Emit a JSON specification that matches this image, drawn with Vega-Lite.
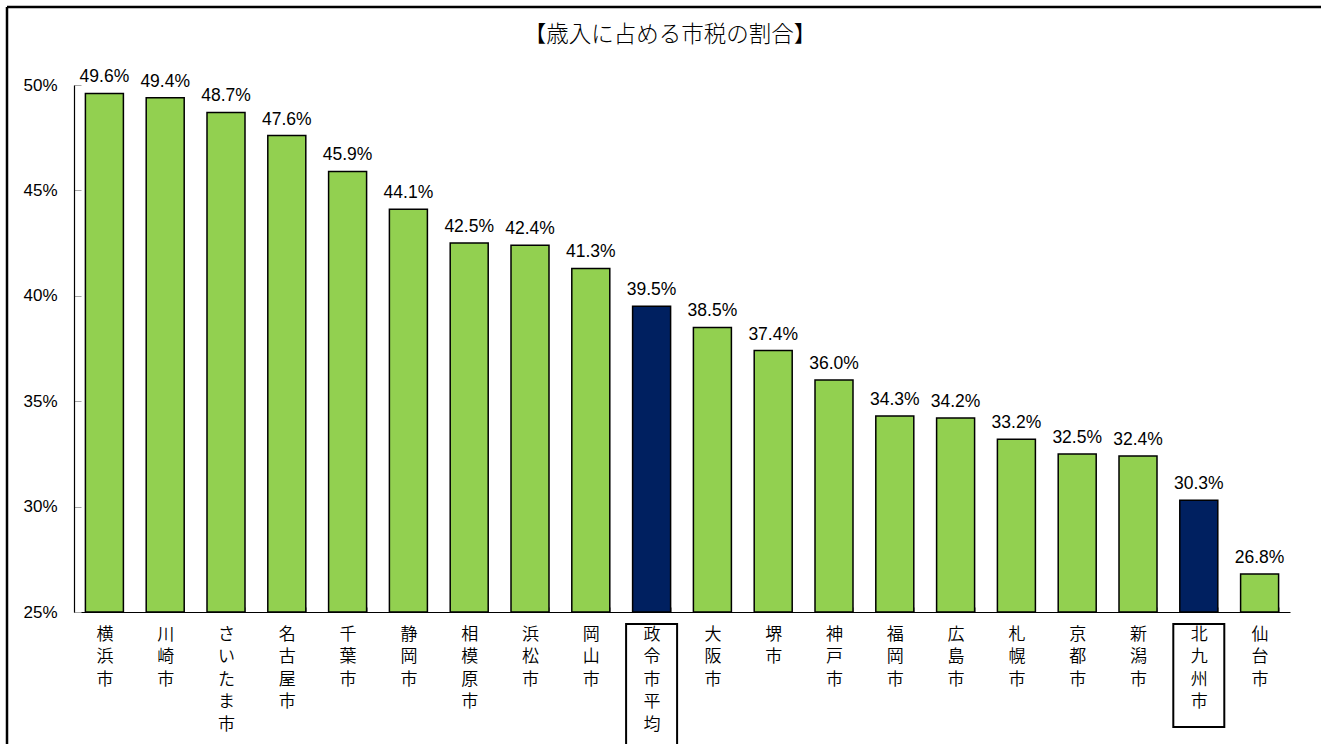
{
  "$schema": "https://vega.github.io/schema/vega-lite/v6.json",
  "autosize": {"type": "none"},
  "padding": {"left": 7, "top": 7, "right": 0, "bottom": 0},
  "width": 1314,
  "height": 737,
  "background": "white",
  "title": {
    "text": "【歳入に占める市税の割合】",
    "font": "Noto Sans CJK JP",
    "fontSize": 22.5,
    "fontWeight": 300,
    "color": "black",
    "anchor": "middle",
    "offset": -39,
    "dx": 6
  },
  "config": {
    "view": {"stroke": "black", "strokeWidth": 2.5, "strokeDash": [1314, 2051, 737, 0]},
    "axis": {"grid": false}
  },
  "data": {
    "values": [
      {"city": "横浜市", "value": 0.496},
      {"city": "川崎市", "value": 0.494},
      {"city": "さいたま市", "value": 0.487},
      {"city": "名古屋市", "value": 0.476},
      {"city": "千葉市", "value": 0.459},
      {"city": "静岡市", "value": 0.441},
      {"city": "相模原市", "value": 0.425},
      {"city": "浜松市", "value": 0.424},
      {"city": "岡山市", "value": 0.413},
      {"city": "政令市平均", "value": 0.395},
      {"city": "大阪市", "value": 0.385},
      {"city": "堺市", "value": 0.374},
      {"city": "神戸市", "value": 0.360},
      {"city": "福岡市", "value": 0.343},
      {"city": "広島市", "value": 0.342},
      {"city": "札幌市", "value": 0.332},
      {"city": "京都市", "value": 0.325},
      {"city": "新潟市", "value": 0.324},
      {"city": "北九州市", "value": 0.303},
      {"city": "仙台市", "value": 0.268}
    ]
  },
  "encoding": {
    "x": {
      "field": "city",
      "type": "nominal",
      "sort": null,
      "title": null,
      "scale": {"range": [67, 1283], "paddingInner": 0.375, "paddingOuter": 0.1875},
      "axis": {
        "orient": "bottom",
        "offset": -132,
        "domainColor": "black",
        "domainWidth": 1.2,
        "tickBand": "extent",
        "tickSize": -5,
        "tickColor": "#a6a6a6",
        "labelAngle": 0,
        "labelExpr": "split(datum.label, '')",
        "labelFont": "Noto Sans CJK JP",
        "labelFontSize": 17,
        "labelFontWeight": 350,
        "labelLineHeight": 22.5,
        "labelColor": "black",
        "labelBaseline": "top",
        "labelPadding": 19,
        "labelOverlap": false,
        "labelBound": false
      }
    }
  },
  "layer": [
    {
      "mark": {"type": "bar", "stroke": "black", "strokeWidth": 1.5},
      "encoding": {
        "y": {
          "field": "value",
          "type": "quantitative",
          "title": null,
          "scale": {"domain": [0.25, 0.5], "range": [605, 78], "nice": false, "zero": false},
          "axis": {
            "orient": "left",
            "offset": -67,
            "values": [0.25, 0.3, 0.35, 0.4, 0.45, 0.5],
            "format": ".0%",
            "domainColor": "black",
            "domainWidth": 1.2,
            "tickSize": -7,
            "tickColor": "#a6a6a6",
            "labelPadding": 24,
            "labelFont": "Liberation Sans",
            "labelFontSize": 17,
            "labelColor": "black",
            "labelBaseline": "middle"
          }
        },
        "y2": {"datum": 0.25},
        "color": {
          "condition": {"test": "indexof(['政令市平均','北九州市'], datum.city) >= 0", "value": "#002060"},
          "value": "#92D050"
        }
      }
    },
    {
      "mark": {"type": "text", "baseline": "alphabetic", "dy": -11, "font": "Liberation Sans", "fontSize": 17.5, "color": "black"},
      "encoding": {
        "y": {"field": "value", "type": "quantitative"},
        "text": {"field": "value", "type": "quantitative", "format": ".1%"}
      }
    },
    {
      "transform": [{"filter": "datum.city === '政令市平均'"}],
      "mark": {"type": "bar", "width": 51, "filled": false, "stroke": "black", "strokeWidth": 2},
      "encoding": {
        "y": {"datum": 0.2443},
        "y2": {"datum": 0.12}
      }
    },
    {
      "transform": [{"filter": "datum.city === '北九州市'"}],
      "mark": {"type": "bar", "width": 51, "filled": false, "stroke": "black", "strokeWidth": 2},
      "encoding": {
        "y": {"datum": 0.2443},
        "y2": {"datum": 0.1954}
      }
    }
  ]
}
